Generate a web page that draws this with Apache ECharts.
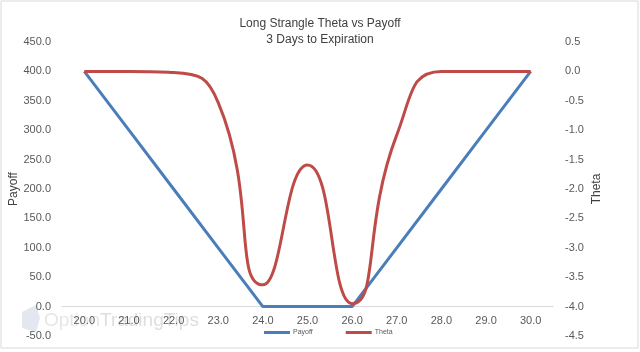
<!DOCTYPE html>
<html>
<head>
<meta charset="utf-8">
<script src="https://cdn.jsdelivr.net/npm/echarts@6/dist/echarts.min.js"></script>
<style>
  html, body { margin: 0; padding: 0; background: #fff; }
  #chart { width: 640px; height: 352px; }
</style>
</head>
<body>
<div id="chart"></div>
<script>
// strike prices along the bottom
const strikes = ["20.0", "21.0", "22.0", "23.0", "24.0", "25.0", "26.0", "27.0", "28.0", "29.0", "30.0"];
// payoff at expiration (left axis)
const payoff = [400, 300, 200, 100, 0, 0, 0, 100, 200, 300, 400];
// theta, 3 days out (right axis)
const theta = [0, 0, -0.02, -0.53, -3.63, -1.59, -3.95, -1.08, 0, 0, 0];

const chart = echarts.init(document.getElementById("chart"));
const labelColor = "#595959";
const fmt = (v) => Number(v).toFixed(1);

// grid is 294px tall for 500 payoff units; the category axis sits on payoff 0
const gridTop = 42;
const gridBottom = 16;
const zeroShift = -(50 * (352 - gridTop - gridBottom)) / 500;

const option = {
  animation: false,
  textStyle: { fontFamily: "Liberation Sans" },
  title: {
    text: "Long Strangle Theta vs Payoff\n3 Days to Expiration",
    left: "center",
    top: 11,
    textStyle: {
      fontSize: 12,
      fontWeight: "normal",
      color: "#404040",
      lineHeight: 16,
    },
  },
  legend: {
    left: 259,
    top: 324,
    itemWidth: 26,
    itemHeight: 3,
    itemGap: 33,
    icon: "rect",
    textStyle: { fontSize: 7, color: labelColor, padding: [0, 0, 0, -2] },
    data: ["Payoff", "Theta"],
  },
  grid: {
    left: 62,
    right: 87,
    top: gridTop,
    bottom: gridBottom,
    containLabel: false,
    outerBoundsMode: "none",
  },
  xAxis: {
    type: "category",
    data: strikes,
    boundaryGap: true,
    offset: zeroShift,
    axisLine: { onZero: false, lineStyle: { color: "#d9d9d9", width: 1 } },
    axisTick: { show: false },
    axisLabel: { color: labelColor, fontSize: 11, margin: 9 },
    splitLine: { show: false },
  },
  yAxis: [
    {
      type: "value",
      name: "Payoff",
      nameLocation: "middle",
      nameGap: 42,
      nameMoveOverlap: false,
      nameTextStyle: { color: "#404040", fontSize: 12 },
      min: -50,
      max: 450,
      interval: 50,
      axisLine: { show: false },
      axisTick: { show: false },
      splitLine: { show: false },
      axisLabel: { color: labelColor, fontSize: 11, margin: 11, formatter: fmt },
    },
    {
      type: "value",
      name: "Theta",
      nameLocation: "middle",
      nameGap: 38,
      nameMoveOverlap: false,
      nameTextStyle: { color: "#404040", fontSize: 12 },
      min: -4.5,
      max: 0.5,
      interval: 0.5,
      axisLine: { show: false },
      axisTick: { show: false },
      splitLine: { show: false },
      axisLabel: { color: labelColor, fontSize: 11, margin: 12, formatter: fmt },
    },
  ],
  series: [
    {
      name: "Payoff",
      type: "line",
      data: payoff,
      yAxisIndex: 0,
      symbol: "none",
      itemStyle: { color: "#4a7ebb" },
      lineStyle: { color: "#4a7ebb", width: 3 },
    },
    {
      name: "Theta",
      type: "line",
      data: theta,
      yAxisIndex: 1,
      smooth: 0.55,
      symbol: "none",
      itemStyle: { color: "#be4b48" },
      lineStyle: { color: "#be4b48", width: 3 },
    },
  ],
  graphic: [
    {
      // chart area border
      type: "rect",
      shape: { x: 1, y: 1, width: 637, height: 347 },
      style: { fill: "none", stroke: "#d9d9d9", lineWidth: 1 },
      silent: true,
    },
    {
      // faint watermark logo
      type: "polygon",
      shape: { points: [[22, 312], [36, 305], [40, 318], [36, 332], [22, 328]] },
      style: { fill: "#e4e7ef" },
      silent: true,
      z: -1,
    },
    {
      type: "text",
      left: 44,
      top: 311,
      style: {
        rich: {
          a: { fontSize: 19, fontFamily: "Liberation Sans", fill: "#e6e6e6" },
          b: { fontSize: 19, fontFamily: "Liberation Sans", fill: "#dedede" },
        },
        text: "{a|Option}{b|TradingTips}",
      },
      silent: true,
      z: -1,
    },
  ],
};

chart.setOption(option);
</script>
</body>
</html>
